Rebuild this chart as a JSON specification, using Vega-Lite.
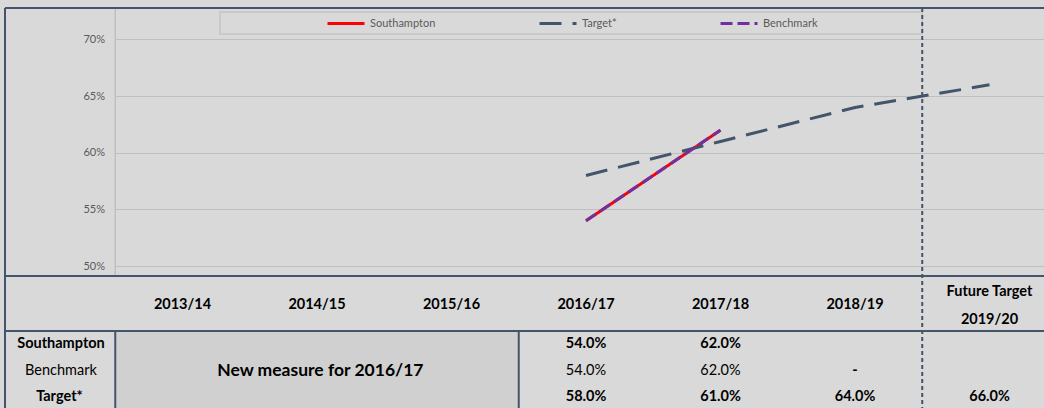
{
  "$schema": "https://vega.github.io/schema/vega-lite/v6.json",
  "autosize": "none",
  "width": 1039,
  "height": 400,
  "padding": {"left": 5, "top": 8, "right": 0, "bottom": 0},
  "background": "#d9d9d9",
  "config": {"view": {"stroke": null}, "font": "Lato"},
  "datasets": {
    "rows": [
      {"series": "Southampton", "year": "2016/17", "value": 0.54},
      {"series": "Southampton", "year": "2017/18", "value": 0.62},
      {"series": "Target*", "year": "2016/17", "value": 0.58},
      {"series": "Target*", "year": "2017/18", "value": 0.61},
      {"series": "Target*", "year": "2018/19", "value": 0.64},
      {"series": "Target*", "year": "2019/20", "value": 0.66},
      {"series": "Benchmark", "year": "2016/17", "value": 0.54},
      {"series": "Benchmark", "year": "2017/18", "value": 0.62},
      {"series": "Benchmark", "year": "2018/19", "value": null}
    ]
  },
  "layer": [
    {
      "data": {"values": [{}]},
      "mark": {"type": "rect", "fill": "#d0d0d0"},
      "encoding": {
        "x": {"datum": "2013/14", "bandPosition": -0.5, "scale": {"type": "band", "domain": ["2013/14", "2014/15", "2015/16", "2016/17", "2017/18", "2018/19", "2019/20"], "paddingInner": 0.5, "paddingOuter": 0.61245, "align": 0.87329, "round": false}},
        "x2": {"datum": "2016/17", "bandPosition": -0.5},
        "y": {"datum": 0.44272, "type": "quantitative", "scale": {"domain": [0.37476, 0.7278], "nice": false, "zero": false}},
        "y2": {"datum": 0.37476}
      }
    },
    {
      "data": {"values": [{}]},
      "mark": {"type": "rect", "fill": "transparent", "stroke": "#c4c4c4", "strokeWidth": 1.5},
      "encoding": {
        "x": {"datum": "2013/14", "bandPosition": 1.0576},
        "x2": {"datum": "2019/20", "bandPosition": -0.5},
        "y": {"datum": 0.72427, "type": "quantitative"},
        "y2": {"datum": 0.70485}
      }
    },
    {
      "data": {"values": [{}]},
      "mark": {"type": "rule", "color": "#bfbfbf", "strokeWidth": 1.5},
      "encoding": {
        "x": {"datum": "2013/14", "bandPosition": -0.5},
        "y": {"datum": 0.7278, "type": "quantitative"},
        "y2": {"datum": 0.49126}
      }
    },
    {
      "data": {"values": [{}]},
      "mark": {"type": "rule", "color": "#44546a", "strokeWidth": 2},
      "encoding": {
        "x": {"datum": "2013/14", "bandPosition": -0.5},
        "y": {"datum": 0.44272, "type": "quantitative"},
        "y2": {"datum": 0.37476}
      }
    },
    {
      "data": {"values": [{}]},
      "mark": {"type": "rule", "color": "#44546a", "strokeWidth": 2},
      "encoding": {
        "x": {"datum": "2016/17", "bandPosition": -0.5},
        "y": {"datum": 0.44272, "type": "quantitative"},
        "y2": {"datum": 0.37476}
      }
    },
    {
      "data": {"values": [{}]},
      "mark": {"type": "rule", "color": "#44546a", "strokeWidth": 2},
      "encoding": {
        "x": {"datum": "2013/14", "bandPosition": -2.1394}
      }
    },
    {
      "data": {"values": [{}]},
      "mark": {"type": "rule", "color": "#44546a", "strokeWidth": 2},
      "encoding": {
        "y": {"datum": 0.7278, "type": "quantitative"}
      }
    },
    {
      "data": {"values": [{}]},
      "mark": {"type": "rule", "color": "#44546a", "strokeWidth": 2},
      "encoding": {
        "y": {"datum": 0.49126, "type": "quantitative"}
      }
    },
    {
      "data": {"values": [{}]},
      "mark": {"type": "rule", "color": "#44546a", "strokeWidth": 2},
      "encoding": {
        "y": {"datum": 0.44272, "type": "quantitative"}
      }
    },
    {
      "data": {"values": [{}]},
      "mark": {"type": "rule", "color": "#44546a", "strokeWidth": 2, "strokeDash": [4, 3]},
      "encoding": {
        "x": {"datum": "2019/20", "bandPosition": -0.5}
      }
    },
    {
      "data": {"name": "rows"},
      "transform": [{"filter": "datum.value != null"}],
      "mark": {"type": "line", "strokeWidth": 3},
      "encoding": {
        "x": {
          "field": "year", "type": "nominal",
          "scale": {"type": "band", "domain": ["2013/14", "2014/15", "2015/16", "2016/17", "2017/18", "2018/19", "2019/20"], "paddingInner": 0.5, "paddingOuter": 0.61245, "align": 0.87329, "round": false},
          "axis": {
            "orient": "bottom", "offset": -132, "title": null, "domain": false, "ticks": false, "grid": false,
            "bandPosition": 0.5,
            "labelPadding": {"condition": {"test": "datum.value === '2019/20'", "value": 15}, "value": 28.5},
            "labelAlign": "center", "labelBaseline": "middle", "labelAngle": 0, "labelLineHeight": 28,
            "labelFont": "Lato", "labelFontSize": 14.5, "labelFontWeight": "bold", "labelColor": "#000000",
            "labelOverlap": false, "labelBound": false, "labelFlush": false,
            "labelExpr": "datum.label == '2019/20' ? ['Future Target', '2019/20'] : datum.label"
          }
        },
        "y": {
          "field": "value", "type": "quantitative",
          "scale": {"domain": [0.37476, 0.7278], "nice": false, "zero": false},
          "axis": {
            "orient": "left", "offset": -110.5, "title": null, "domain": false, "grid": false,
            "values": [0.5, 0.55, 0.6, 0.65, 0.7], "format": ".0%",
            "ticks": true, "tickSize": -929, "tickColor": "#bfbfbf", "tickWidth": 1,
            "labelPadding": 940, "labelBaseline": "middle", "labelFont": "Lato", "labelFontSize": 11, "labelColor": "#595959"
          }
        },
        "color": {
          "field": "series", "type": "nominal",
          "scale": {"domain": ["Southampton", "Target*", "Benchmark"], "range": ["#ff0000", "#44546a", "#7030a0"]},
          "legend": {
            "title": null, "orient": "none", "legendX": 321, "legendY": -4.5, "direction": "horizontal",
            "symbolType": "stroke", "symbolSize": 1369, "symbolStrokeWidth": 3,
            "labelFont": "Lato", "labelFontSize": 11, "labelColor": "#595959", "labelOffset": 4,
            "columnPadding": 97, "padding": 0
          }
        },
        "strokeDash": {
          "field": "series", "type": "nominal",
          "scale": {"domain": ["Southampton", "Target*", "Benchmark"], "range": [[1, 0], [22, 11], [12, 5]]},
          "legend": {
            "title": null, "orient": "none", "legendX": 321, "legendY": -4.5, "direction": "horizontal",
            "symbolType": "stroke", "symbolSize": 1369, "symbolStrokeWidth": 3,
            "labelFont": "Lato", "labelFontSize": 11, "labelColor": "#595959", "labelOffset": 4,
            "columnPadding": 97, "padding": 0
          }
        }
      }
    },
    {
      "data": {"name": "rows"},
      "transform": [{"filter": "datum.series == 'Southampton'"}],
      "mark": {"type": "text", "font": "Lato", "fontSize": 14.5, "fontWeight": "bold", "baseline": "middle", "align": "center", "color": "#000000"},
      "encoding": {
        "x": {"field": "year", "type": "nominal"},
        "y": {"datum": 0.43124, "type": "quantitative"},
        "text": {"field": "value", "type": "quantitative", "format": ".1%", "condition": {"test": "datum.value === null", "value": "-"}}
      }
    },
    {
      "data": {"name": "rows"},
      "transform": [{"filter": "datum.series == 'Benchmark'"}],
      "mark": {"type": "text", "font": "Lato", "fontSize": 14.5, "fontWeight": {"expr": "datum.value === null ? 'bold' : 'normal'"}, "baseline": "middle", "align": "center", "color": "#000000"},
      "encoding": {
        "x": {"field": "year", "type": "nominal"},
        "y": {"datum": 0.40759, "type": "quantitative"},
        "text": {"field": "value", "type": "quantitative", "format": ".1%", "condition": {"test": "datum.value === null", "value": "-"}}
      }
    },
    {
      "data": {"name": "rows"},
      "transform": [{"filter": "datum.series == 'Target*'"}],
      "mark": {"type": "text", "font": "Lato", "fontSize": 14.5, "fontWeight": "bold", "baseline": "middle", "align": "center", "color": "#000000"},
      "encoding": {
        "x": {"field": "year", "type": "nominal"},
        "y": {"datum": 0.3842, "type": "quantitative"},
        "text": {"field": "value", "type": "quantitative", "format": ".1%", "condition": {"test": "datum.value === null", "value": "-"}}
      }
    },
    {
      "data": {"values": [{}]},
      "mark": {"type": "text", "font": "Lato", "fontSize": 14.5, "fontWeight": "bold", "baseline": "middle", "align": "center", "color": "#000000", "text": "Southampton"},
      "encoding": {
        "x": {"datum": "2013/14", "bandPosition": -1.307},
        "y": {"datum": 0.43124, "type": "quantitative"}
      }
    },
    {
      "data": {"values": [{}]},
      "mark": {"type": "text", "font": "Lato", "fontSize": 14.5, "fontWeight": "normal", "baseline": "middle", "align": "center", "color": "#000000", "text": "Benchmark"},
      "encoding": {
        "x": {"datum": "2013/14", "bandPosition": -1.307},
        "y": {"datum": 0.40759, "type": "quantitative"}
      }
    },
    {
      "data": {"values": [{}]},
      "mark": {"type": "text", "font": "Lato", "fontSize": 14.5, "fontWeight": "bold", "baseline": "middle", "align": "center", "color": "#000000", "text": "Target*"},
      "encoding": {
        "x": {"datum": "2013/14", "bandPosition": -1.33},
        "y": {"datum": 0.3842, "type": "quantitative"}
      }
    },
    {
      "data": {"values": [{}]},
      "mark": {"type": "text", "font": "Lato", "fontSize": 17.5, "fontWeight": "bold", "baseline": "middle", "align": "center", "color": "#000000", "text": "New measure for 2016/17"},
      "encoding": {
        "x": {"datum": "2014/15", "bandPosition": 0.55},
        "y": {"datum": 0.40759, "type": "quantitative"}
      }
    }
  ]
}
